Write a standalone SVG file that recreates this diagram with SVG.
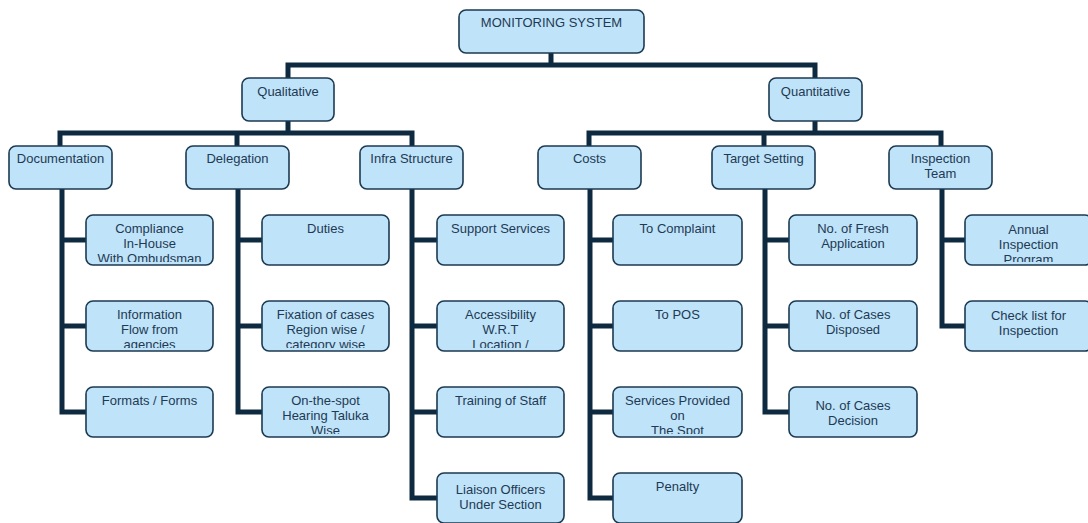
<svg xmlns="http://www.w3.org/2000/svg" width="1088" height="523" viewBox="0 0 1088 523">
<style>
.box{fill:#bfe3f8;stroke:#1c3a52;stroke-width:1.6}
.t{font-family:"Liberation Sans",Arial,sans-serif;font-size:13px;fill:#1e3a55;text-anchor:middle}
.ln{fill:none;stroke:#0e2a40;stroke-width:5;stroke-linejoin:miter}
</style>
<defs>
<clipPath id="c1"><rect x="86" y="215" width="127" height="47"/></clipPath>
<clipPath id="c2"><rect x="86" y="301" width="127" height="47"/></clipPath>
<clipPath id="c3"><rect x="262" y="301" width="127" height="47"/></clipPath>
<clipPath id="c4"><rect x="262" y="387" width="127" height="47"/></clipPath>
<clipPath id="c5"><rect x="437" y="301" width="127" height="47"/></clipPath>
<clipPath id="c6"><rect x="613" y="387" width="129" height="47"/></clipPath>
<clipPath id="c7"><rect x="965" y="215" width="127" height="47"/></clipPath>
</defs>
<rect width="1088" height="523" fill="#ffffff"/>
<g id="connectors">
<path class="ln" d="M551 53V65M288 78V65H815V78"/>
<path class="ln" d="M288 121V133M60 146V133H412V146M237 133V146"/>
<path class="ln" d="M815 121V133M589 146V133H941V146M764 133V146"/>
<path class="ln" d="M62 189V412H86M62 240H86M62 326H86"/>
<path class="ln" d="M238 189V412H262M238 240H262M238 326H262"/>
<path class="ln" d="M412 189V498H437M412 240H437M412 326H437M412 412H437"/>
<path class="ln" d="M590 189V498H613M590 240H613M590 326H613M590 412H613"/>
<path class="ln" d="M765 189V412H789M765 240H789M765 326H789"/>
<path class="ln" d="M942 189V326H965M942 240H965"/>
</g>
<g id="root"><rect class="box" x="459" y="10" width="185" height="43" rx="7"/><text class="t" x="551.5" y="27">MONITORING SYSTEM</text></g>
<g id="qualitative"><rect class="box" x="242" y="78" width="92" height="43" rx="7"/><text class="t" x="288" y="96">Qualitative</text></g>
<g id="quantitative"><rect class="box" x="769" y="78" width="93" height="43" rx="7"/><text class="t" x="815.5" y="96">Quantitative</text></g>
<g id="documentation"><rect class="box" x="9" y="146" width="103" height="43" rx="7"/><text class="t" x="60.5" y="163">Documentation</text></g>
<g id="delegation"><rect class="box" x="186" y="146" width="103" height="43" rx="7"/><text class="t" x="237.5" y="163">Delegation</text></g>
<g id="infra"><rect class="box" x="360" y="146" width="103" height="43" rx="7"/><text class="t" x="411.5" y="163">Infra Structure</text></g>
<g id="costs"><rect class="box" x="538" y="146" width="103" height="43" rx="7"/><text class="t" x="589.5" y="163">Costs</text></g>
<g id="target"><rect class="box" x="712" y="146" width="103" height="43" rx="7"/><text class="t" x="763.5" y="163">Target Setting</text></g>
<g id="inspection"><rect class="box" x="889" y="146" width="103" height="43" rx="7"/><text class="t" x="940.5" y="163">Inspection</text><text class="t" x="940.5" y="178">Team</text></g>
<g id="compliance"><rect class="box" x="86" y="215" width="127" height="50" rx="7"/><g clip-path="url(#c1)"><text class="t" x="149.5" y="233">Compliance</text><text class="t" x="149.5" y="248">In-House</text><text class="t" x="149.5" y="263">With Ombudsman</text></g></g>
<g id="information"><rect class="box" x="86" y="301" width="127" height="50" rx="7"/><g clip-path="url(#c2)"><text class="t" x="149.5" y="319">Information</text><text class="t" x="149.5" y="334">Flow from</text><text class="t" x="149.5" y="349">agencies</text></g></g>
<g id="formats"><rect class="box" x="86" y="387" width="127" height="50" rx="7"/><text class="t" x="149.5" y="405">Formats / Forms</text></g>
<g id="duties"><rect class="box" x="262" y="215" width="127" height="50" rx="7"/><text class="t" x="325.5" y="233">Duties</text></g>
<g id="fixation"><rect class="box" x="262" y="301" width="127" height="50" rx="7"/><g clip-path="url(#c3)"><text class="t" x="325.5" y="319">Fixation of cases</text><text class="t" x="325.5" y="334">Region wise /</text><text class="t" x="325.5" y="349">category wise</text></g></g>
<g id="onthespot"><rect class="box" x="262" y="387" width="127" height="50" rx="7"/><g clip-path="url(#c4)"><text class="t" x="325.5" y="405">On-the-spot</text><text class="t" x="325.5" y="420">Hearing Taluka</text><text class="t" x="325.5" y="435">Wise</text></g></g>
<g id="support"><rect class="box" x="437" y="215" width="127" height="50" rx="7"/><text class="t" x="500.5" y="233">Support Services</text></g>
<g id="accessibility"><rect class="box" x="437" y="301" width="127" height="50" rx="7"/><g clip-path="url(#c5)"><text class="t" x="500.5" y="319">Accessibility</text><text class="t" x="500.5" y="334">W.R.T</text><text class="t" x="500.5" y="349">Location /</text></g></g>
<g id="training"><rect class="box" x="437" y="387" width="127" height="50" rx="7"/><text class="t" x="500.5" y="405">Training of Staff</text></g>
<g id="liaison"><rect class="box" x="437" y="473" width="127" height="50" rx="7"/><text class="t" x="500.5" y="494">Liaison Officers</text><text class="t" x="500.5" y="509">Under Section</text></g>
<g id="tocomplaint"><rect class="box" x="613" y="215" width="129" height="50" rx="7"/><text class="t" x="677.5" y="233">To Complaint</text></g>
<g id="topos"><rect class="box" x="613" y="301" width="129" height="50" rx="7"/><text class="t" x="677.5" y="319">To POS</text></g>
<g id="services"><rect class="box" x="613" y="387" width="129" height="50" rx="7"/><g clip-path="url(#c6)"><text class="t" x="677.5" y="405">Services Provided</text><text class="t" x="677.5" y="420">on</text><text class="t" x="677.5" y="435">The Spot</text></g></g>
<g id="penalty"><rect class="box" x="613" y="473" width="129" height="50" rx="7"/><text class="t" x="677.5" y="491">Penalty</text></g>
<g id="fresh"><rect class="box" x="789" y="215" width="128" height="50" rx="7"/><text class="t" x="853" y="233">No. of Fresh</text><text class="t" x="853" y="248">Application</text></g>
<g id="disposed"><rect class="box" x="789" y="301" width="128" height="50" rx="7"/><text class="t" x="853" y="319">No. of Cases</text><text class="t" x="853" y="334">Disposed</text></g>
<g id="decision"><rect class="box" x="789" y="387" width="128" height="50" rx="7"/><text class="t" x="853" y="410">No. of Cases</text><text class="t" x="853" y="425">Decision</text></g>
<g id="annual"><rect class="box" x="965" y="215" width="127" height="50" rx="7"/><g clip-path="url(#c7)"><text class="t" x="1028.5" y="234">Annual</text><text class="t" x="1028.5" y="249">Inspection</text><text class="t" x="1028.5" y="264">Program</text></g></g>
<g id="checklist"><rect class="box" x="965" y="301" width="127" height="50" rx="7"/><text class="t" x="1028.5" y="320">Check list for</text><text class="t" x="1028.5" y="335">Inspection</text></g>
</svg>
